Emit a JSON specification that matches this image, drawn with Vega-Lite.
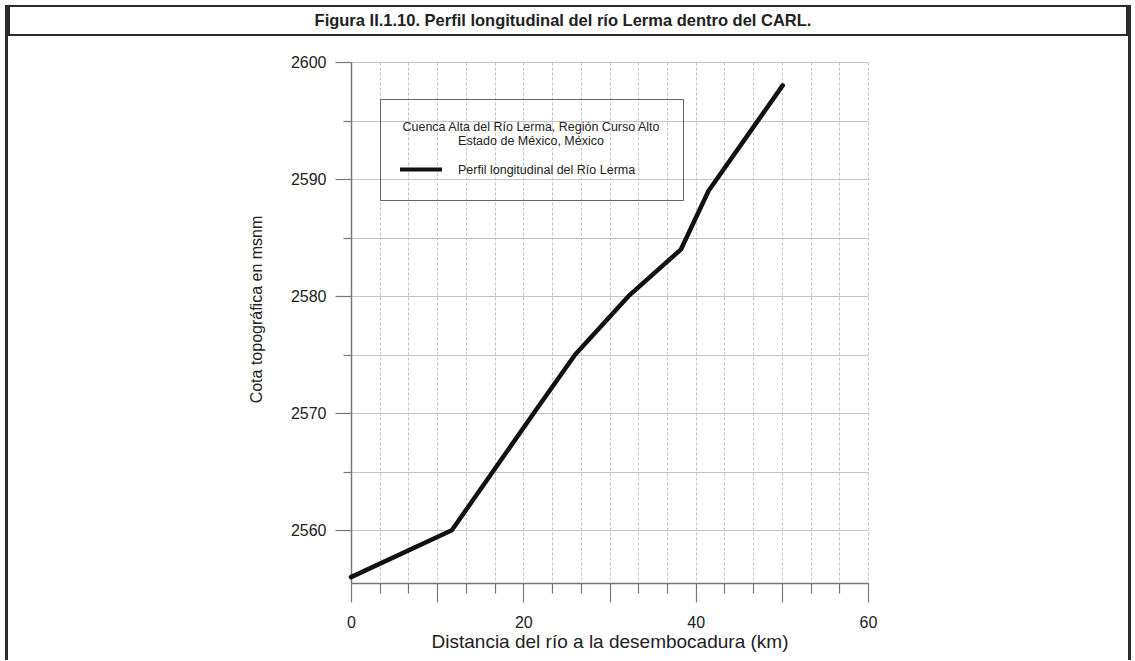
{
  "$schema": "https://vega.github.io/schema/vega-lite/v6.json",
  "padding": {"left": 5, "top": 5, "right": 0, "bottom": 0},
  "background": "white",
  "config": {"view": {"stroke": null}, "font": "Liberation Sans"},
  "spacing": 0,
  "hconcat": [
    {
      "width": 1,
      "height": 653,
      "view": {"stroke": "#2a2a2a", "strokeWidth": 2},
      "data": {"values": []},
      "mark": "point"
    },
    {
      "spacing": 18,
      "vconcat": [
        {
          "width": 1118,
          "height": 29,
          "view": {"stroke": "#2a2a2a", "strokeWidth": 2},
          "data": {"values": [{"titulo": "Figura II.1.10. Perfil longitudinal del río Lerma dentro del CARL."}]},
          "mark": {"type": "text", "font": "Liberation Sans", "fontSize": 16.5, "fontWeight": "bold", "color": "#222", "dx": -5},
          "encoding": {"text": {"field": "titulo", "type": "nominal"}}
        },
        {
          "spacing": 237,
          "hconcat": [
            {
              "width": 1,
              "height": 1,
              "view": {"stroke": "#ffffff", "strokeWidth": 1},
              "data": {"values": []},
              "mark": "point"
            },
            {
              "width": 517,
              "height": 521,
              "data": {
                "values": [
                  {"km": 0, "cota": 2556, "serie": "Perfil longitudinal del Río Lerma"},
                  {"km": 11.7, "cota": 2560, "serie": "Perfil longitudinal del Río Lerma"},
                  {"km": 21.2, "cota": 2570, "serie": "Perfil longitudinal del Río Lerma"},
                  {"km": 26.0, "cota": 2575, "serie": "Perfil longitudinal del Río Lerma"},
                  {"km": 32.2, "cota": 2580, "serie": "Perfil longitudinal del Río Lerma"},
                  {"km": 38.3, "cota": 2584, "serie": "Perfil longitudinal del Río Lerma"},
                  {"km": 41.5, "cota": 2589, "serie": "Perfil longitudinal del Río Lerma"},
                  {"km": 50.1, "cota": 2598, "serie": "Perfil longitudinal del Río Lerma"}
                ]
              },
              "mark": {"type": "line", "strokeWidth": 4.5, "strokeJoin": "round", "strokeCap": "round"},
              "encoding": {
                "x": {
                  "field": "km",
                  "type": "quantitative",
                  "scale": {"domain": [0, 60], "nice": false, "zero": false},
                  "axis": {
                    "values": [0, 3.333, 6.667, 10, 13.333, 16.667, 20, 23.333, 26.667, 30, 33.333, 36.667, 40, 43.333, 46.667, 50, 53.333, 56.667, 60],
                    "labelExpr": "datum.value % 20 === 0 ? datum.label : ''",
                    "title": "Distancia del río a la desembocadura (km)",
                    "titleFontSize": 19,
                    "titleFontWeight": "normal",
                    "titleColor": "#222",
                    "titlePadding": 2,
                    "labelFontSize": 16,
                    "labelColor": "#222",
                    "labelPadding": 12,
                    "labelFlush": false,
                    "labelOverlap": false,
                    "tickSize": {"condition": {"test": "datum.value % 10 === 0", "value": 19}, "value": 10},
                    "tickColor": "#777",
                    "tickWidth": 1.2,
                    "domainColor": "#777",
                    "domainWidth": 1.5,
                    "grid": true,
                    "gridColor": "#c4c4c4",
                    "gridDash": [3, 2],
                    "gridWidth": 1
                  }
                },
                "y": {
                  "field": "cota",
                  "type": "quantitative",
                  "scale": {"domain": [2555.5, 2600], "nice": false, "zero": false},
                  "axis": {
                    "values": [2560, 2565, 2570, 2575, 2580, 2585, 2590, 2595, 2600],
                    "format": "d",
                    "labelExpr": "datum.value % 10 === 0 ? datum.label : ''",
                    "title": "Cota topográfica en msnm",
                    "titleFontSize": 16,
                    "titleFontWeight": "normal",
                    "titleColor": "#222",
                    "titlePadding": 26,
                    "titleY": 247,
                    "labelFontSize": 16,
                    "labelColor": "#222",
                    "labelPadding": 9,
                    "labelOverlap": false,
                    "tickSize": {"condition": {"test": "datum.value % 10 === 0", "value": 16}, "value": 8},
                    "tickColor": "#777",
                    "tickWidth": 1.2,
                    "domainColor": "#777",
                    "domainWidth": 1.5,
                    "grid": true,
                    "gridColor": "#c4c4c4",
                    "gridWidth": 1
                  }
                },
                "color": {
                  "field": "serie",
                  "type": "nominal",
                  "scale": {"range": ["#111"]},
                  "legend": {
                    "orient": "none",
                    "legendX": 374,
                    "legendY": 93,
                    "title": ["Cuenca Alta del Río Lerma, Región Curso Alto", "Estado de México, México"],
                    "titleFontSize": 12.5,
                    "titleFontWeight": "normal",
                    "titleColor": "#222",
                    "titleAnchor": "middle",
                    "titleAlign": "center",
                    "titleLineHeight": 14,
                    "titlePadding": 13,
                    "titleLimit": 400,
                    "labelFontSize": 12.5,
                    "labelColor": "#222",
                    "labelOffset": 28,
                    "labelLimit": 400,
                    "symbolType": "M-3,0H3",
                    "symbolSize": 196,
                    "symbolStrokeWidth": 4,
                    "symbolOffset": -14,
                    "strokeColor": "#666",
                    "padding": 22
                  }
                }
              }
            }
          ]
        }
      ]
    },
    {
      "width": 1,
      "height": 653,
      "view": {"stroke": "#2a2a2a", "strokeWidth": 2},
      "data": {"values": []},
      "mark": "point"
    }
  ]
}
